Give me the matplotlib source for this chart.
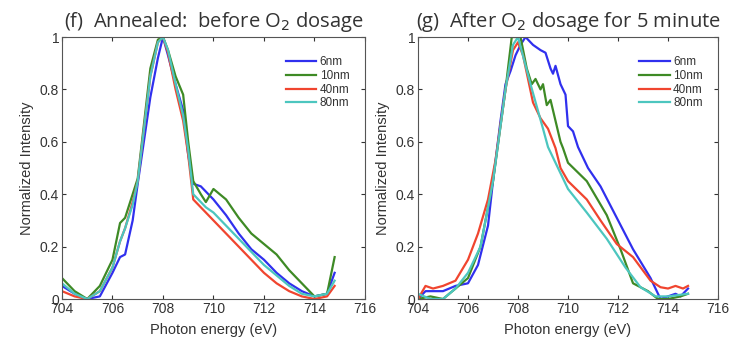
import numpy as np
import matplotlib.pyplot as plt

plt.rcParams['font.family'] = ['Liberation Sans', 'DejaVu Sans']

LABELS = ["6nm", "10nm", "40nm", "80nm"]
COLORS = ["#3030ee", "#3e8a25", "#f0452f", "#4cc6bf"]

# (f) annealed, before O2 dosage -- all four spectra on one energy grid
e_f = [704.0, 704.5, 705.0, 705.5, 706.0, 706.3, 706.5, 706.8, 707.0, 707.5,
       707.8, 708.0, 708.2, 708.5, 708.8, 709.0, 709.2, 709.5, 709.7, 710.0,
       710.5, 711.0, 711.5, 712.0, 712.5, 713.0, 713.5, 714.0, 714.5, 714.8]
f_6nm = [0.05, 0.02, 0.00, 0.01, 0.10, 0.16, 0.17, 0.30, 0.44, 0.77,
         0.92, 1.00, 0.93, 0.82, 0.72, 0.55, 0.44, 0.43, 0.41, 0.38,
         0.32, 0.25, 0.19, 0.15, 0.10, 0.06, 0.03, 0.01, 0.02, 0.10]
f_10nm = [0.08, 0.03, 0.00, 0.05, 0.15, 0.29, 0.31, 0.40, 0.46, 0.88,
          0.99, 1.00, 0.95, 0.85, 0.78, 0.60, 0.45, 0.40, 0.37, 0.42,
          0.38, 0.31, 0.25, 0.21, 0.17, 0.11, 0.06, 0.01, 0.02, 0.16]
f_40nm = [0.03, 0.01, 0.00, 0.03, 0.12, 0.22, 0.27, 0.37, 0.45, 0.85,
          0.98, 1.00, 0.94, 0.80, 0.68, 0.55, 0.38, 0.35, 0.33, 0.30,
          0.25, 0.20, 0.15, 0.10, 0.06, 0.03, 0.01, 0.00, 0.01, 0.05]
f_80nm = [0.06, 0.02, 0.00, 0.03, 0.12, 0.22, 0.27, 0.36, 0.45, 0.85,
          0.98, 1.00, 0.95, 0.82, 0.70, 0.57, 0.40, 0.37, 0.35, 0.33,
          0.28, 0.23, 0.18, 0.13, 0.09, 0.05, 0.02, 0.01, 0.02, 0.07]

# (g) after O2 dosage for 5 minute -- each spectrum with its own energies
g_6nm_e = [704.0, 704.3, 705.0, 705.5, 706.0, 706.4, 706.8, 707.0, 707.3,
           707.5, 707.7, 707.9, 708.1, 708.3, 708.6, 708.9, 709.1, 709.3,
           709.4, 709.5, 709.7, 709.9, 710.0, 710.2, 710.4, 710.8, 711.3,
           711.95, 712.6, 713.3, 713.7, 714.0, 714.3, 714.5, 714.8]
g_6nm = [0.00, 0.03, 0.03, 0.05, 0.06, 0.13, 0.28, 0.45, 0.68,
         0.82, 0.87, 0.93, 0.97, 1.00, 0.97, 0.95, 0.94, 0.88,
         0.86, 0.89, 0.82, 0.78, 0.66, 0.64, 0.58, 0.50, 0.43,
         0.31, 0.19, 0.08, 0.00, 0.01, 0.02, 0.01, 0.04]

g_10nm_e = [704.0, 704.5, 705.0, 705.5, 706.0, 706.5, 707.0, 707.5, 707.75,
            708.1, 708.35, 708.55, 708.7, 708.9, 709.0, 709.15, 709.3, 709.4,
            709.7, 709.8, 710.0, 710.75, 711.55, 712.1, 712.6, 713.2, 713.6,
            714.0, 714.5, 714.8]
g_10nm = [0.00, 0.01, 0.00, 0.04, 0.08, 0.20, 0.45, 0.80, 1.00,
          1.00, 0.88, 0.82, 0.84, 0.80, 0.82, 0.74, 0.76, 0.72,
          0.60, 0.576, 0.52, 0.45, 0.32, 0.19, 0.06, 0.03, 0.00,
          0.00, 0.01, 0.02]

g_40nm_e = [704.0, 704.3, 704.6, 705.0, 705.5, 706.0, 706.4, 706.8, 707.1,
            707.5, 707.8, 708.0, 708.2, 708.6, 708.9, 709.2, 709.5, 709.7,
            710.0, 710.75, 711.3, 711.95, 712.6, 713.3, 713.7, 714.0, 714.3,
            714.6, 714.8]
g_40nm = [0.00, 0.05, 0.04, 0.05, 0.07, 0.15, 0.25, 0.38, 0.53,
          0.80, 0.95, 0.98, 0.93, 0.75, 0.69, 0.65, 0.576, 0.50,
          0.45, 0.38, 0.30, 0.21, 0.16, 0.07, 0.045, 0.04, 0.05,
          0.04, 0.05]

g_80nm_e = [704.0, 704.5, 705.0, 705.5, 706.0, 706.5, 707.0, 707.5, 707.8,
            708.0, 708.5, 709.0, 709.2, 709.5, 710.0, 710.75, 711.55, 712.3,
            712.9, 713.5, 714.0, 714.8]
g_80nm = [0.02, 0.00, 0.00, 0.04, 0.10, 0.20, 0.45, 0.80, 0.97,
          1.00, 0.82, 0.65, 0.58, 0.52, 0.42, 0.33, 0.23, 0.12,
          0.045, 0.01, 0.01, 0.02]

fig = plt.figure(figsize=(7.3, 3.47), dpi=100)
ax_f = fig.add_axes([0.0849, 0.1383, 0.415, 0.755])
ax_g = fig.add_axes([0.5726, 0.1383, 0.411, 0.755])

panels = [
    (ax_f, [(e_f, f_6nm), (e_f, f_10nm), (e_f, f_40nm), (e_f, f_80nm)],
     r"(f)  Annealed:  before O$_2$ dosage"),
    (ax_g, [(g_6nm_e, g_6nm), (g_10nm_e, g_10nm), (g_40nm_e, g_40nm),
            (g_80nm_e, g_80nm)],
     r"(g)  After O$_2$ dosage for 5 minute"),
]

for ax, series, title in panels:
    for (xs, ys), lab, col in zip(series, LABELS, COLORS):
        ax.plot(xs, ys, color=col, lw=1.6, label=lab)
    ax.set_xlim(704, 716)
    ax.set_ylim(0, 1)
    ax.set_xticks(np.arange(704, 717, 2))
    ax.set_yticks([0, 0.2, 0.4, 0.6, 0.8, 1])
    ax.set_yticklabels(["0", "0.2", "0.4", "0.6", "0.8", "1"])
    ax.tick_params(direction="in", top=True, right=True, length=3,
                   labelsize=10, colors="#333333", pad=2)
    for sp in ax.spines.values():
        sp.set_color("#555555")
    ax.set_xlabel("Photon energy (eV)", fontsize=10.5, color="#333333",
                  labelpad=5)
    ax.set_ylabel("Normalized Intensity", fontsize=10.5, color="#333333",
                  labelpad=4)
    ax.set_title(title, fontsize=14.5, color="#333333", pad=7,
                 family=["Open Sans", "DejaVu Sans"])
    ax.legend(loc="upper right", bbox_to_anchor=(0.965, 0.945),
              frameon=False, fontsize=8.5, handlelength=2.6,
              handletextpad=0.3, labelspacing=0.15, borderaxespad=0,
              labelcolor="#333333")

fig.savefig("out.png", dpi=100)
